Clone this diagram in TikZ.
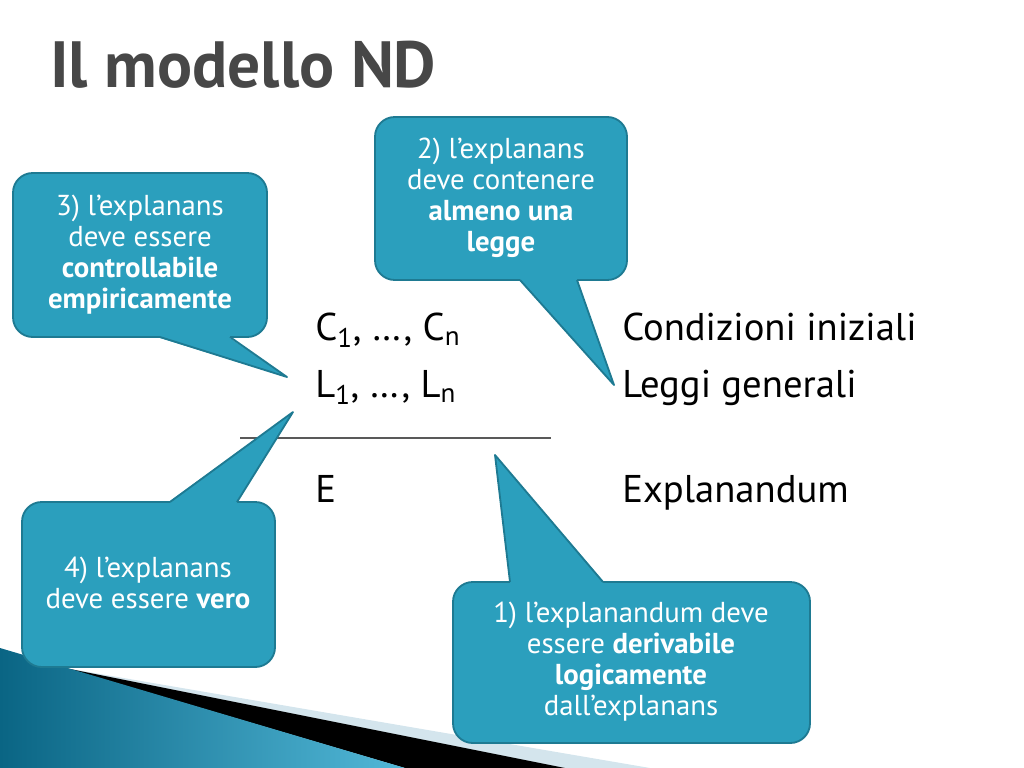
\documentclass[tikz,border=0pt]{standalone}
\usepackage{fontspec}
\setmainfont{PT Sans}
\definecolor{bubblefill}{HTML}{2B9FBD}
\definecolor{bubbleedge}{HTML}{1E7A92}
\definecolor{titlegray}{HTML}{474747}
\definecolor{wedgedark}{HTML}{0A6584}
\definecolor{wedgelight}{HTML}{52B8D8}
\definecolor{wedgepale}{HTML}{D4E5ED}

\begin{document}
\begin{tikzpicture}[x=0.025cm, y=-0.025cm,
  bubble/.style={fill=bubblefill, draw=bubbleedge, line width=1.3pt, rounded corners=14pt},
  pointer/.style={draw=bubbleedge, line width=1.3pt, line join=round},
  bubbletext/.style={text=white, align=center, font=\fontsize{20.5}{22}\selectfont},
  formula/.style={anchor=base west, inner sep=0pt, font=\fontsize{27.5}{30}\selectfont}]
  \useasboundingbox (0,0) rectangle (1024,768);

  % Title
  \node[anchor=base west, inner sep=0pt, text=titlegray, font=\bfseries\fontsize{46.5}{52}\selectfont]
    (title) at (50,88) {Il modello ND};

  % Corner decoration
  \fill[wedgepale] (65,668) -- (650,768) -- (400,768) -- cycle;
  \fill[black] (65,668) -- (565,768) -- (405,768) -- cycle;
  \shade[left color=wedgedark, right color=wedgelight] (0,648) -- (405,768) -- (0,768) -- cycle;

  % Scheme
  \node[formula] (cc) at (315,340) {C\textsubscript{1}, …, C\textsubscript{n}};
  \node[formula] (ll) at (315,397) {L\textsubscript{1}, …, L\textsubscript{n}};
  \node[formula] (ee) at (315,502) {E};
  \node[formula] (cond) at (622,340) {Condizioni iniziali};
  \node[formula] (leggi) at (622,397) {Leggi generali};
  \node[formula] (expl) at (622,502) {Explanandum};
  \coordinate (barl) at (240,438);
  \coordinate (barr) at (551,438);
  \draw[gray!70!black, line width=0.8pt] (barl) -- (barr);

  % Pointer tips
  \coordinate (tip1) at (495,455);
  \coordinate (tip2) at (614,385);
  \coordinate (tip3) at (287,377);
  \coordinate (tip4) at (293,412);

  % 3) top left
  \draw[bubble] (13,173) rectangle (267,337);
  \fill[bubblefill] (160,330) -- (160,338) -- (tip3) -- (230,338) -- (230,330) -- cycle;
  \draw[pointer] (160,337) -- (tip3) -- (230,337);
  \node[bubbletext] (req3) at (140,255)
    {3) l’explanans\\deve essere\\\textbf{controllabile}\\\textbf{empiricamente}};

  % 2) top
  \draw[bubble] (375,117) rectangle (627,280);
  \fill[bubblefill] (520,273) -- (520,281) -- (tip2) -- (577,281) -- (577,273) -- cycle;
  \draw[pointer] (520,280) -- (tip2) -- (577,280);
  \node[bubbletext] (req2) at (501,198)
    {2) l’explanans\\deve contenere\\\textbf{almeno una}\\\textbf{legge}};

  % 4) bottom left
  \draw[bubble] (22,502) rectangle (275,667);
  \fill[bubblefill] (170,509) -- (170,501) -- (tip4) -- (237,501) -- (237,509) -- cycle;
  \draw[pointer] (170,502) -- (tip4) -- (237,502);
  \node[bubbletext] (req4) at (148,583)
    {4) l’explanans\\deve essere \textbf{vero}};

  % 1) bottom right
  \draw[bubble] (453,582) rectangle (810,743);
  \fill[bubblefill] (510,589) -- (510,581) -- (tip1) -- (603,581) -- (603,589) -- cycle;
  \draw[pointer] (510,582) -- (tip1) -- (603,582);
  \node[bubbletext] (req1) at (631,662)
    {1) l’explanandum deve\\essere \textbf{derivabile}\\\textbf{logicamente}\\dall’explanans};
\end{tikzpicture}
\end{document}
